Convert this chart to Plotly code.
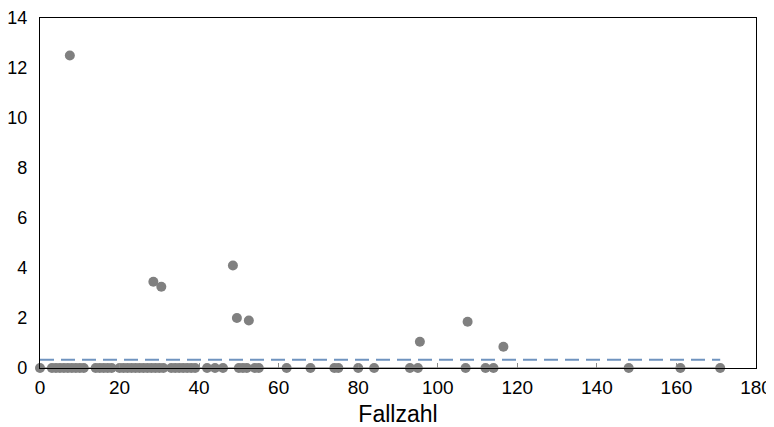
import plotly.graph_objects as go

# Non-zero observations
nz_x = [7.5, 28.5, 30.5, 48.5, 49.5, 52.5, 95.5, 107.5, 116.5]
nz_y = [12.5, 3.45, 3.25, 4.1, 2.0, 1.9, 1.05, 1.85, 0.85]

# Zero observations (Fallzahl positions)
z_x = [0, 3, 4, 5, 6, 7, 8, 9, 10, 11, 14, 15, 16, 17, 18, 20, 21, 22, 23, 24,
       25, 26, 27, 28, 29, 30, 31, 33, 34, 35, 36, 37, 38, 39, 42, 44, 46,
       50, 51, 52, 54, 55, 62, 68, 74, 75, 80, 84, 93, 95, 107, 112, 114,
       148, 161, 171]
z_y = [0] * len(z_x)

threshold = 0.33
x_max_data = 171

x_ticks = [0, 20, 40, 60, 80, 100, 120, 140, 160, 180]
y_ticks = [0, 2, 4, 6, 8, 10, 12, 14]

fig = go.Figure()
fig.add_trace(go.Scatter(x=[0, x_max_data], y=[0, 0], mode="lines",
                         line=dict(color="#8c8c8c", width=1.5), hoverinfo="skip"))
fig.add_trace(go.Scatter(x=[0, x_max_data], y=[threshold, threshold], mode="lines",
                         line=dict(color="#6f93bf", width=2, dash="14px,7px"), hoverinfo="skip"))
fig.add_trace(go.Scatter(x=z_x + nz_x, y=z_y + nz_y, mode="markers",
                         marker=dict(color="#808080", size=10), cliponaxis=False))

# page body has an 8px default margin; size the figure to compensate
fig.update_layout(
    width=766, height=419,
    margin=dict(l=32, r=18, t=10, b=59),
    paper_bgcolor="white", plot_bgcolor="white",
    showlegend=False,
    font=dict(family="Liberation Sans, Arial, sans-serif", size=19, color="black"),
)
fig.update_xaxes(range=[0, 180], tickvals=x_ticks, showgrid=False, zeroline=False,
                 showline=True, linecolor="black", linewidth=1.3, mirror=True,
                 ticks="inside", ticklen=5, tickcolor="#8c8c8c", automargin=False,
                 ticklabelstandoff=2,
                 title=dict(text="Fallzahl", font=dict(size=23), standoff=8))
fig.update_yaxes(range=[0, 14], tickvals=y_ticks, showgrid=False, zeroline=False,
                 showline=True, linecolor="black", linewidth=1.3, mirror=True,
                 ticks="", ticklabelstandoff=8, automargin=False,
                 tickfont=dict(size=18))

fig.write_html("out.html")
